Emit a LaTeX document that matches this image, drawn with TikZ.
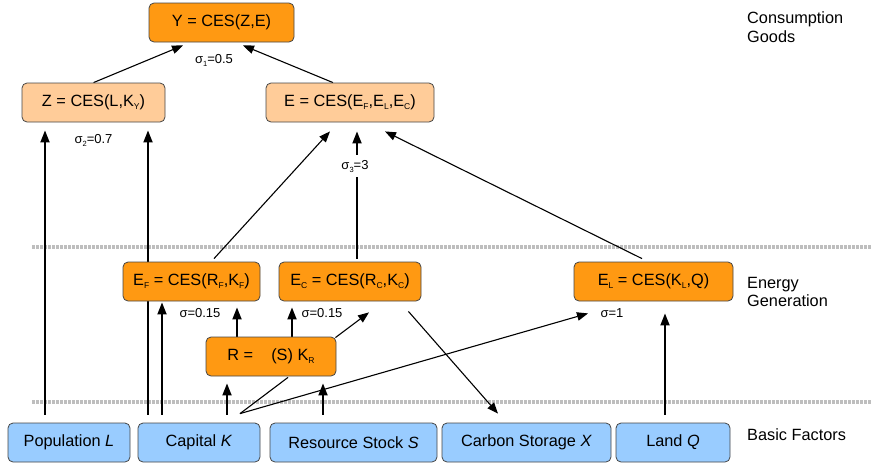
\documentclass[tikz,border=0pt]{standalone}
\usepackage{fontspec}
\setmainfont{Liberation Sans}
\usetikzlibrary{arrows.meta,backgrounds}
\definecolor{darkor}{RGB}{255,153,18}
\definecolor{lightor}{RGB}{255,204,153}
\definecolor{factblue}{RGB}{153,204,255}
\definecolor{bordergray}{RGB}{70,70,70}
\definecolor{sepgray}{RGB}{190,190,190}
\newcommand{\lsub}[1]{\raisebox{-3.2pt}{\fontsize{8.5pt}{9pt}\selectfont #1}}
\newcommand{\sigsub}[1]{\raisebox{-3pt}{\fontsize{7.5pt}{8pt}\selectfont #1}}
\begin{document}
\begin{tikzpicture}[x=1pt,y=-1pt,
  box/.style={draw=bordergray, line width=0.8pt, rounded corners=5pt, minimum height=39pt, inner sep=0pt, font=\fontsize{16.3pt}{19pt}\selectfont},
  topbox/.style={box, fill=darkor},
  midbox/.style={box, fill=lightor},
  genbox/.style={box, fill=darkor},
  facbox/.style={box, fill=factblue},
  thickarr/.style={line width=1.8pt, -{Triangle[length=12pt,width=9pt]}},
  thinarr/.style={line width=1.1pt, -{Triangle[length=11pt,width=8.5pt]}},
  thinline/.style={line width=1.1pt},
  sig/.style={font=\fontsize{13pt}{15pt}\selectfont, inner sep=0pt},
  side/.style={font=\fontsize{16.3pt}{18.5pt}\selectfont, align=left, anchor=west, inner sep=0pt},
  sepline/.style={draw=sepgray, line width=4pt, dash pattern=on 3pt off 1pt}
]
\useasboundingbox (0,0) rectangle (872,464);

% nodes
\node[topbox, minimum width=145pt] (Y) at (221.5,22.5) {Y = CES(Z,E)};
\node[midbox, minimum width=143pt] (Z) at (93.5,102.5) {Z = CES(L,K\lsub{Y})};
\node[midbox, minimum width=168pt] (E) at (350,102.5) {E = CES(E\lsub{F},E\lsub{L},E\lsub{C})};
\node[genbox, minimum width=137pt] (EF) at (191.5,281.5) {E\lsub{F} = CES(R\lsub{F},K\lsub{F})};
\node[genbox, minimum width=142pt] (EC) at (350,281.5) {E\lsub{C} = CES(R\lsub{C},K\lsub{C})};
\node[genbox, minimum width=159pt] (EL) at (653.5,281.5) {E\lsub{L} = CES(K\lsub{L},Q)};
\node[genbox, minimum width=130pt] (R) at (271,356.5) {R = \hspace{9pt} (S) K\lsub{R}};
\node[facbox, minimum width=122pt] (Pop) at (69,442.5) {Population \textit{L}};
\node[facbox, minimum width=122pt] (Cap) at (199,442.5) {Capital \textit{K}};
\node[facbox, minimum width=167pt] (Res) at (353.5,442.5) {Resource Stock \textit{S}};
\node[facbox, minimum width=169pt] (Carb) at (526.5,442.5) {Carbon Storage \textit{X}};
\node[facbox, minimum width=114pt] (Land) at (673,442.5) {Land \textit{Q}};

% side labels
\node[side] (cg) at (747,27) {Consumption\\Goods};
\node[side] (eg) at (747,292) {Energy\\Generation};
\node[side] (bf) at (747,435) {Basic Factors};

% sigma labels
\node[sig] (s1) at (214,60) {σ\sigsub{1}=0.5};
\node[sig] (s2) at (93.5,140) {σ\sigsub{2}=0.7};
\node[sig, fill=white, inner ysep=5pt, inner xsep=1pt] (s3) at (355,166) {σ\sigsub{3}=3};
\node[sig] (s4) at (200,313) {σ=0.15};
\node[sig] (s5) at (322,313) {σ=0.15};
\node[sig] (s6) at (612,313) {σ=1};

\begin{pgfonlayer}{background}
\draw[sepline] (32,247) -- (872,247);
\draw[sepline] (32,402) -- (872,402);

\draw[thinarr] (Z.north) -- ([xshift=-38.5pt,yshift=-3pt]Y.south);
\draw[thinarr] ([xshift=-17pt]E.north) -- ([xshift=21.5pt,yshift=-3pt]Y.south);
\draw[thickarr] ([xshift=-24pt,yshift=8pt]Pop.north) -- ([xshift=-48.5pt,yshift=-8pt]Z.south);
\draw[thickarr] ([xshift=-51pt,yshift=8pt]Cap.north) -- ([xshift=54.5pt,yshift=-8pt]Z.south);
\draw[thickarr] ([xshift=-37pt,yshift=8pt]Cap.north) -- ([xshift=-29.5pt,yshift=-1pt]EF.south);
\draw[thickarr] ([xshift=28pt,yshift=8pt]Cap.north) -- ([xshift=-44pt,yshift=-7pt]R.south);
\draw[thickarr] ([xshift=-30.5pt,yshift=8pt]Res.north) -- ([xshift=52pt,yshift=-7pt]R.south);
\draw[thickarr] ([xshift=-34pt]R.north) -- ([xshift=45.5pt,yshift=-6pt]EF.south);
\draw[thickarr] ([xshift=21pt]R.north) -- ([xshift=-58pt,yshift=-6pt]EC.south);
\draw[thinarr] ([xshift=-1pt,yshift=-1pt]R.north east) -- ([xshift=19pt,yshift=-11pt]EC.south);
\draw[thinline] ([xshift=41pt,yshift=9pt]Cap.north) -- ([xshift=17pt,yshift=-1pt]R.south);
\draw[thinarr] ([xshift=41pt,yshift=9pt]Cap.north) -- ([xshift=-65.5pt,yshift=-12pt]EL.south);
\draw[thinarr] ([xshift=-13pt,yshift=-10pt]EC.south east) -- ([xshift=-28.5pt,yshift=9pt]Carb.north);
\draw[thickarr] ([xshift=-8pt,yshift=8pt]Land.north) -- ([xshift=11.5pt,yshift=-12pt]EL.south);
\draw[thinarr] ([xshift=22.5pt,yshift=3pt]EF.north) -- ([xshift=-20pt,yshift=-9pt]E.south);
\draw[thickarr] ([xshift=7pt,yshift=3pt]EC.north) -- ([xshift=7pt,yshift=-9pt]E.south);
\draw[thinarr] ([xshift=-11.5pt,yshift=3pt]EL.north) -- ([xshift=35pt,yshift=-9pt]E.south);
\end{pgfonlayer}
\end{tikzpicture}
\end{document}
